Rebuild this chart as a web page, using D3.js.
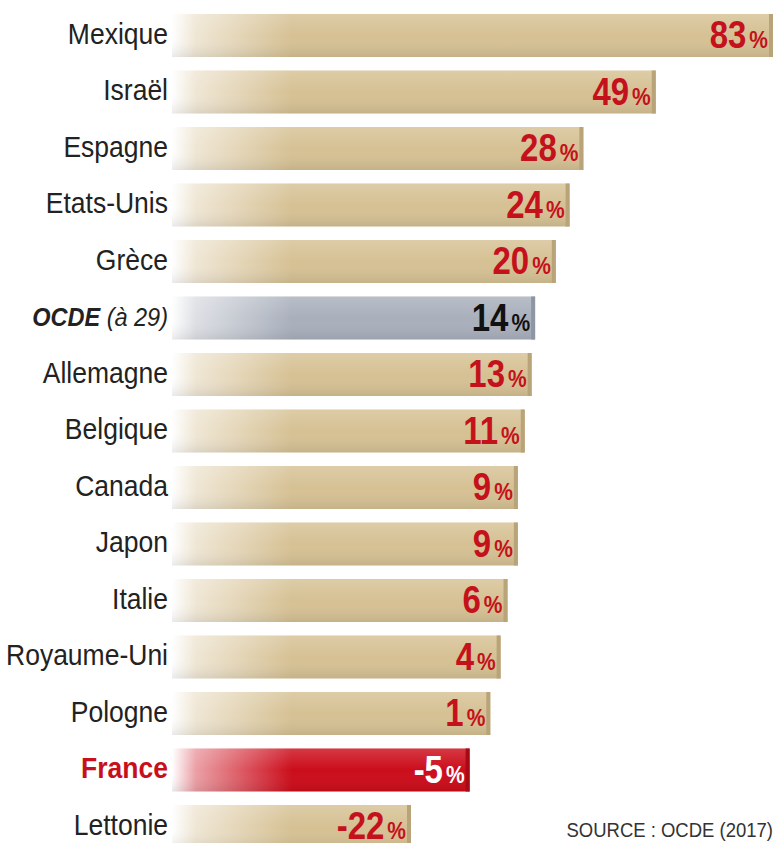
<!DOCTYPE html>
<html>
<head>
<meta charset="utf-8">
<script src="https://cdn.jsdelivr.net/npm/d3@7"></script>
<style>
  body { margin: 0; background: #ffffff; }
  text { font-family: "Liberation Sans", Arial, sans-serif; }
</style>
</head>
<body>
<div id="container"></div>
<script>
/* CONSTANTS AND GLOBALS */
const width = 775,
  height = 843;

/* DATA */
const pays = ["Mexique", "Israël", "Espagne", "Etats-Unis", "Grèce", "OCDE (à 29)", "Allemagne",
  "Belgique", "Canada", "Japon", "Italie", "Royaume-Uni", "Pologne", "France", "Lettonie"];
const variations = [83, 49, 28, 24, 20, 14, 13, 11, 9, 9, 6, 4, 1, -5, -22];
const moyenne = "OCDE (à 29)";
const enAvant = "France";
const source = "SOURCE : OCDE (2017)";

const rows = pays.map((p, i) => ({ pays: p, valeur: variations[i] }));

const barLeft = 172,
  labelRight = 168;

const svg = d3.select("#container")
  .append("svg")
  .attr("width", width)
  .attr("height", height);

/* SCALES */
const x = d3.scaleLinear()
  .domain([-22, 83])
  .range([411, 773]);

const step = 56.5;
const y = d3.scaleBand()
  .domain(pays)
  .range([7.25, 7.25 + pays.length * step])
  .paddingInner(0.239)
  .paddingOuter(0.1195);

/* GRADIENTS */
const defs = svg.append("defs");
const palettes = {
  normal: { main: "#d6c194", edge: "#b9a379" },
  moyenne: { main: "#a9b0bc", edge: "#8e96a4" },
  enAvant: { main: "#cc0d1b", edge: "#a80a15" }
};
Object.entries(palettes).forEach(([k, c]) => {
  const g = defs.append("linearGradient")
    .attr("id", "grad-" + k)
    .attr("gradientUnits", "userSpaceOnUse")
    .attr("x1", barLeft).attr("x2", barLeft + 120)
    .attr("y1", 0).attr("y2", 0);
  g.append("stop").attr("offset", 0).attr("stop-color", "#ffffff");
  g.append("stop").attr("offset", 0.2).attr("stop-color", d3.interpolateRgb("#ffffff", c.main)(0.4));
  g.append("stop").attr("offset", 1).attr("stop-color", c.main);
});
const shade = defs.append("linearGradient")
  .attr("id", "shade")
  .attr("x1", 0).attr("x2", 0).attr("y1", 0).attr("y2", 1);
shade.append("stop").attr("offset", 0).attr("stop-color", "#ffffff").attr("stop-opacity", 0.18);
shade.append("stop").attr("offset", 0.5).attr("stop-color", "#ffffff").attr("stop-opacity", 0);
shade.append("stop").attr("offset", 1).attr("stop-color", "#000000").attr("stop-opacity", 0.08);

const kind = d => d.pays === moyenne ? "moyenne" : d.pays === enAvant ? "enAvant" : "normal";

/* BARS */
const bar = svg.selectAll("g.bar")
  .data(rows)
  .join("g")
  .attr("class", "bar");

bar.append("rect")
  .attr("x", barLeft)
  .attr("y", d => y(d.pays))
  .attr("width", d => x(d.valeur) - barLeft)
  .attr("height", y.bandwidth())
  .attr("fill", d => `url(#grad-${kind(d)})`);

bar.append("rect")
  .attr("x", barLeft)
  .attr("y", d => y(d.pays))
  .attr("width", d => x(d.valeur) - barLeft)
  .attr("height", y.bandwidth())
  .attr("fill", "url(#shade)");

// darker right end of each bar
bar.append("rect")
  .attr("x", d => x(d.valeur) - 4)
  .attr("y", d => y(d.pays))
  .attr("width", 4)
  .attr("height", y.bandwidth())
  .attr("fill", d => palettes[kind(d)].edge);

/* COUNTRY LABELS */
const label = svg.selectAll("g.label")
  .data(rows)
  .join("g")
  .attr("class", "label")
  .attr("transform", d => `translate(${labelRight},${y(d.pays) + y.bandwidth() / 2 + 8}) scale(1,1.08)`)
  .append("text")
  .attr("text-anchor", "end")
  .attr("font-size", d => d.pays === moyenne ? 23.5 : 26.5)
  .attr("fill", d => d.pays === enAvant ? "#c8101c" : "#222222")
  .attr("font-weight", d => d.pays === enAvant ? "bold" : "normal");

label.filter(d => d.pays !== moyenne).text(d => d.pays);

const ocde = label.filter(d => d.pays === moyenne);
ocde.append("tspan").attr("font-weight", "bold").attr("font-style", "italic").text("OCDE");
ocde.append("tspan").attr("font-style", "italic").text(" (à 29)");

/* VALUE LABELS */
const valeur = svg.selectAll("g.valeur")
  .data(rows)
  .join("g")
  .attr("class", "valeur")
  .attr("transform", d => `translate(${x(d.valeur) - 5},${y(d.pays) + y.bandwidth() / 2 + 12.5}) scale(1,1.15)`)
  .append("text")
  .attr("text-anchor", "end")
  .attr("font-weight", "bold")
  .attr("fill", d => d.pays === moyenne ? "#111111" : d.pays === enAvant ? "#ffffff" : "#c4111c");

valeur.append("tspan")
  .attr("font-size", 33)
  .text(d => d.valeur < 0 ? "-" + Math.abs(d.valeur) : d.valeur);
valeur.append("tspan")
  .attr("font-size", 21)
  .attr("dx", 3)
  .text("%");

/* SOURCE */
svg.append("g")
  .attr("transform", "translate(773,837) scale(1,1.1)")
  .append("text")
  .attr("text-anchor", "end")
  .attr("font-size", 18.5)
  .attr("fill", "#333333")
  .text(source);
</script>
</body>
</html>
